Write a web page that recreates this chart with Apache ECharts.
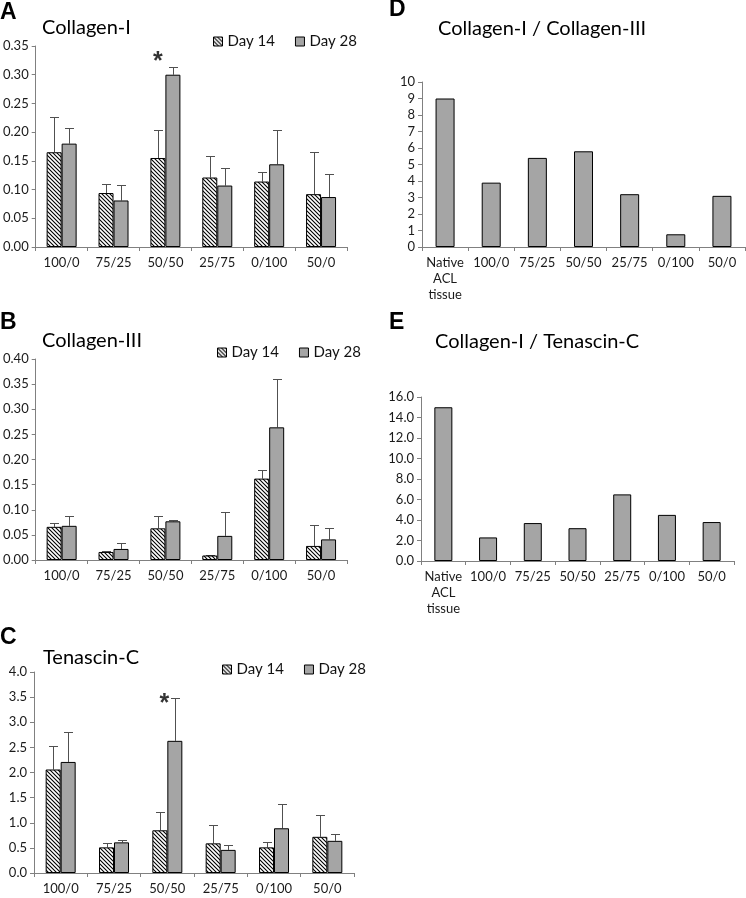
<!DOCTYPE html>
<html>
<head>
<meta charset="utf-8">
<script src="https://cdn.jsdelivr.net/npm/echarts@6/dist/echarts.min.js"></script>
<style>
html,body{margin:0;padding:0;background:#fff;}
#main{width:746px;height:898px;}
</style>
</head>
<body>
<div id="main"></div>
<script>
// ---- data ----
const categories = ['100/0', '75/25', '50/50', '25/75', '0/100', '50/0'];
const ratioCategories = ['Native\nACL\ntissue', '100/0', '75/25', '50/50', '25/75', '0/100', '50/0'];

const col1Day14 = [0.165, 0.094, 0.155, 0.121, 0.114, 0.092];
const col1Day14Err = [0.061, 0.016, 0.049, 0.037, 0.017, 0.073];
const col1Day28 = [0.180, 0.081, 0.300, 0.107, 0.144, 0.087];
const col1Day28Err = [0.027, 0.027, 0.014, 0.031, 0.060, 0.040];

const col3Day14 = [0.066, 0.016, 0.063, 0.009, 0.162, 0.028];
const col3Day14Err = [0.007, 0.001, 0.025, 0.000, 0.018, 0.042];
const col3Day28 = [0.068, 0.022, 0.077, 0.048, 0.264, 0.041];
const col3Day28Err = [0.020, 0.011, 0.003, 0.047, 0.097, 0.023];

const tenDay14 = [2.06, 0.51, 0.85, 0.59, 0.51, 0.72];
const tenDay14Err = [0.46, 0.08, 0.37, 0.36, 0.10, 0.44];
const tenDay28 = [2.21, 0.61, 2.63, 0.46, 0.89, 0.64];
const tenDay28Err = [0.60, 0.04, 0.86, 0.09, 0.48, 0.13];

const ratioCol1Col3 = [9.0, 3.9, 5.4, 5.8, 3.2, 0.77, 3.1];
const ratioCol1Ten = [15.0, 2.3, 3.7, 3.2, 6.5, 4.5, 3.8];

const asteriskA = ['50/50', 0.333];
const asteriskC = ['50/50', 3.49];

const yTicksA = {min: 0, max: 0.35, interval: 0.05, digits: 2};
const yTicksB = {min: 0, max: 0.40, interval: 0.05, digits: 2};
const yTicksC = {min: 0, max: 4.0, interval: 0.5, digits: 1};
const yTicksD = {min: 0, max: 10, interval: 1, digits: 0};
const yTicksE = {min: 0, max: 16, interval: 2, digits: 1};

// ---- styles ----
const FONT = 'Lato';
const GREY = '#a5a5a5';
const AXIS = '#808080';
const ERR = '#505050';

function hatch() {
  const s = 4;
  const c = document.createElement('canvas');
  c.width = s; c.height = s;
  const g = c.getContext('2d');
  g.fillStyle = '#fff';
  g.fillRect(0, 0, s, s);
  g.strokeStyle = '#000';
  g.lineWidth = 1.1;
  g.beginPath();
  g.moveTo(-1, -1); g.lineTo(s + 1, s + 1);
  g.moveTo(-1, s - 1); g.lineTo(1, s + 1);
  g.moveTo(s - 1, -1); g.lineTo(s + 1, 1);
  g.stroke();
  return {image: c, repeat: 'repeat'};
}
const HATCH = hatch();

const grids = [
  {left: 34, top: 46, width: 313, height: 201},
  {left: 34, top: 359, width: 313, height: 201},
  {left: 34, top: 672, width: 320, height: 201},
  {left: 422, top: 82, width: 323, height: 165},
  {left: 421, top: 397, width: 313, height: 164}
];
const yTicks = [yTicksA, yTicksB, yTicksC, yTicksD, yTicksE];

const xAxes = grids.map((g, i) => ({
  type: 'category', gridIndex: i,
  data: i < 3 ? categories : ratioCategories,
  axisLine: {lineStyle: {color: AXIS, width: 1}},
  axisTick: {show: true, length: 4, lineStyle: {color: AXIS}},
  axisLabel: {color: '#1a1a1a', fontFamily: FONT, fontSize: 13, margin: 8, lineHeight: 16, interval: 0}
}));
const yAxes = grids.map((g, i) => ({
  type: 'value', gridIndex: i,
  min: yTicks[i].min, max: yTicks[i].max, interval: yTicks[i].interval,
  splitLine: {show: false},
  axisLine: {show: true, lineStyle: {color: AXIS, width: 1}},
  axisTick: {show: true, length: 4, lineStyle: {color: AXIS}},
  axisLabel: {color: '#1a1a1a', fontFamily: FONT, fontSize: 13, margin: 7,
    formatter: v => Number(v).toFixed(yTicks[i].digits)}
}));

function barSeries(name, idx, values, hatched) {
  return {
    name: name, type: 'bar', xAxisIndex: idx, yAxisIndex: idx,
    data: values, barWidth: 15, barGap: '0%',
    itemStyle: {color: hatched ? HATCH : GREY, borderColor: '#000', borderWidth: 1},
    z: 3
  };
}
function errSeries(idx, means, errs, offset) {
  return {
    type: 'custom', xAxisIndex: idx, yAxisIndex: idx, silent: true, z: 2,
    data: means.map((m, i) => [i, m, errs[i]]),
    encode: {x: 0, y: 1},
    renderItem: function (params, api) {
      const base = api.coord([api.value(0), api.value(1)]);
      const top = api.coord([api.value(0), api.value(1) + api.value(2)]);
      const cx = Math.round(base[0] + offset) + 0.5;
      const ty = Math.round(top[1]) + 0.5;
      return {
        type: 'group',
        children: [
          {type: 'line', shape: {x1: cx, y1: base[1], x2: cx, y2: ty}, style: {stroke: ERR, lineWidth: 1}},
          {type: 'line', shape: {x1: cx - 4.5, y1: ty, x2: cx + 4.5, y2: ty}, style: {stroke: ERR, lineWidth: 1}}
        ]
      };
    }
  };
}
function starSeries(idx, point, dx) {
  return {
    type: 'scatter', xAxisIndex: idx, yAxisIndex: idx, silent: true,
    data: [point], symbolSize: 1, itemStyle: {color: 'rgba(0,0,0,0)'},
    label: {show: true, formatter: '*', position: 'inside', offset: [dx, 6],
      fontSize: 25, fontWeight: 'bold', color: '#000', fontFamily: 'Liberation Sans'}
  };
}

const series = [
  barSeries('Day 14', 0, col1Day14, true), barSeries('Day 28', 0, col1Day28, false),
  errSeries(0, col1Day14, col1Day14Err, -7.5), errSeries(0, col1Day28, col1Day28Err, 7.5),
  barSeries('Day 14', 1, col3Day14, true), barSeries('Day 28', 1, col3Day28, false),
  errSeries(1, col3Day14, col3Day14Err, -7.5), errSeries(1, col3Day28, col3Day28Err, 7.5),
  barSeries('Day 14', 2, tenDay14, true), barSeries('Day 28', 2, tenDay28, false),
  errSeries(2, tenDay14, tenDay14Err, -7.5), errSeries(2, tenDay28, tenDay28Err, 7.5),
  starSeries(0, asteriskA, -7.5), starSeries(2, asteriskC, -3),
  {type: 'bar', xAxisIndex: 3, yAxisIndex: 3, data: ratioCol1Col3, barWidth: 19,
    itemStyle: {color: GREY, borderColor: '#000', borderWidth: 1}},
  {type: 'bar', xAxisIndex: 4, yAxisIndex: 4, data: ratioCol1Ten, barWidth: 18,
    itemStyle: {color: GREY, borderColor: '#000', borderWidth: 1}}
];

function legend(left, top) {
  return {
    data: [
      {name: 'Day 14', itemStyle: {color: HATCH, borderColor: '#000', borderWidth: 1}},
      {name: 'Day 28', itemStyle: {color: GREY, borderColor: '#000', borderWidth: 1}}
    ],
    left: left, top: top, padding: 0,
    itemWidth: 9, itemHeight: 9, itemGap: 20, icon: 'rect',
    selectedMode: false,
    textStyle: {fontFamily: FONT, fontSize: 15, color: '#111'}
  };
}

function txt(x, y, s, size, bold) {
  return {
    type: 'text', x: x, y: y, silent: true,
    style: {text: s, fontSize: size, fontWeight: bold ? 'bold' : 'normal',
      fontFamily: bold ? 'Liberation Sans' : FONT, fill: '#000',
      verticalAlign: 'middle', align: 'left'}
  };
}

const chart = echarts.init(document.getElementById('main'), null, {renderer: 'canvas'});
chart.setOption({
  animation: false,
  backgroundColor: '#fff',
  grid: grids.map(g => Object.assign({containLabel: false}, g)),
  xAxis: xAxes,
  yAxis: yAxes,
  legend: [legend(213, 34), legend(217, 345), legend(222, 662)],
  series: series,
  graphic: [
    txt(0, 13, 'A', 23, true),
    txt(0, 323, 'B', 23, true),
    txt(0, 638, 'C', 23, true),
    txt(389, 10, 'D', 23, true),
    txt(389, 323, 'E', 23, true),
    txt(42, 28, 'Collagen-I', 20, false),
    txt(42, 341, 'Collagen-III', 20, false),
    txt(43, 658, 'Tenascin-C', 20, false),
    txt(438, 29, 'Collagen-I / Collagen-III', 20, false),
    txt(435, 342, 'Collagen-I / Tenascin-C', 20, false)
  ]
});
</script>
</body>
</html>
